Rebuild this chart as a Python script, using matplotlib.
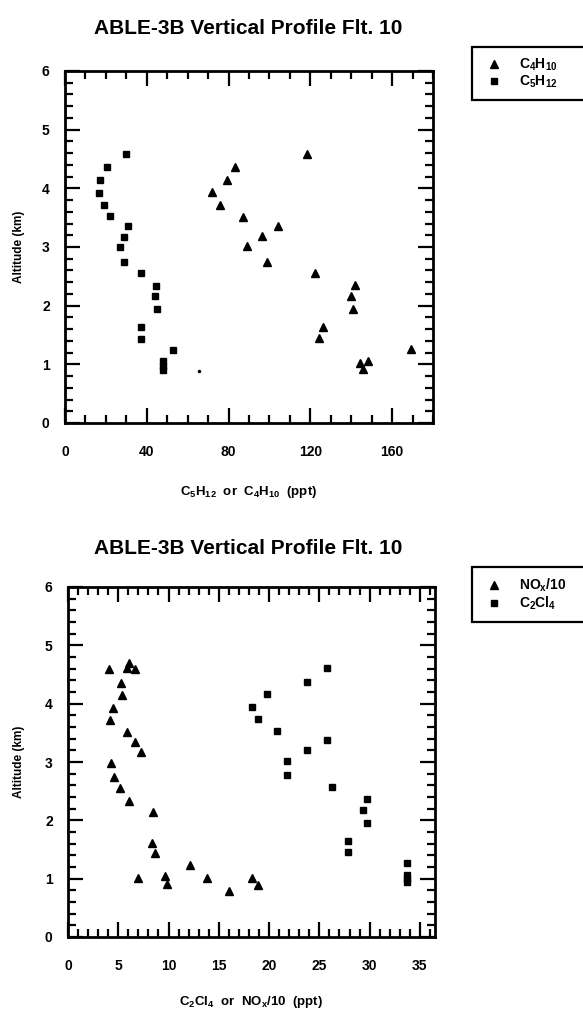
import matplotlib.pyplot as plt
from matplotlib.ticker import MultipleLocator

plt.rcParams['font.family'] = ['Liberation Sans', 'DejaVu Sans']
plt.rcParams['font.weight'] = 'bold'
plt.rcParams['axes.labelweight'] = 'bold'
plt.rcParams['mathtext.fontset'] = 'custom'
plt.rcParams['mathtext.rm'] = 'Liberation Sans:bold'
plt.rcParams['mathtext.default'] = 'rm'

# top panel: butane / pentane (ppt) vs altitude (km)
c4h10_ppt = [118.3, 83.1, 79.0, 72.1, 76.0, 87.0, 104.3, 96.6, 88.9, 99.0,
             122.2, 141.9, 140.1, 141.1, 126.1, 124.2, 169.2, 144.2, 148.3, 146.0]
c4h10_alt = [4.59, 4.37, 4.14, 3.93, 3.72, 3.51, 3.35, 3.18, 3.01, 2.75,
             2.56, 2.36, 2.17, 1.94, 1.64, 1.45, 1.26, 1.03, 1.06, 0.92]
c5h12_ppt = [29.9, 20.6, 17.1, 16.6, 19.1, 22.0, 31.0, 29.0, 26.9, 28.9,
             37.2, 44.4, 43.9, 44.9, 37.2, 37.1, 53.0, 48.1, 48.1, 48.1]
c5h12_alt = [4.59, 4.37, 4.14, 3.92, 3.72, 3.52, 3.35, 3.17, 3.00, 2.75,
             2.56, 2.34, 2.16, 1.94, 1.64, 1.44, 1.24, 1.05, 0.98, 0.91]
stray_ppt = [65.4]
stray_alt = [0.88]

# bottom panel: NOx/10 and C2Cl4 (ppt) vs altitude (km)
nox_ppt = [4.05, 6.1, 5.9, 6.7, 5.27, 5.41, 4.48, 4.15, 5.91, 6.64, 7.23, 4.25, 4.55,
           5.14, 6.11, 8.46, 8.36, 8.66, 12.1, 6.94, 9.65, 9.85, 13.8, 16.05, 18.3, 18.85]
nox_alt = [4.60, 4.70, 4.62, 4.60, 4.36, 4.15, 3.93, 3.72, 3.52, 3.35, 3.17, 2.99, 2.75,
           2.56, 2.34, 2.15, 1.62, 1.44, 1.24, 1.01, 1.04, 0.91, 1.01, 0.79, 1.01, 0.89]
c2cl4_ppt = [25.8, 23.8, 19.8, 18.3, 18.9, 20.8, 25.8, 23.8, 21.8, 21.8,
             26.3, 29.7, 29.3, 29.7, 27.8, 27.8, 33.7, 33.7, 33.7, 33.7]
c2cl4_alt = [4.61, 4.38, 4.17, 3.95, 3.74, 3.54, 3.37, 3.20, 3.02, 2.78,
             2.58, 2.36, 2.18, 1.95, 1.65, 1.46, 1.27, 1.06, 1.00, 0.94]

title = 'ABLE-3B Vertical Profile Flt. 10'

W, H = 583, 1017
fig = plt.figure(figsize=(W / 100, H / 100), dpi=100)
ax1 = fig.add_axes([65 / W, 1 - 423 / H, 368 / W, 352 / H])
ax2 = fig.add_axes([68 / W, 1 - 937 / H, 367 / W, 350 / H])

ax1.plot(c4h10_ppt, c4h10_alt, '^', color='black', ms=6, label=r'C$_4$H$_{10}$')
ax1.plot(c5h12_ppt, c5h12_alt, 's', color='black', ms=5, label=r'C$_5$H$_{12}$')
ax1.plot(stray_ppt, stray_alt, 'o', color='black', ms=1.5)
ax1.set_xlim(0, 180)
ax1.xaxis.set_major_locator(MultipleLocator(40))
ax1.xaxis.set_minor_locator(MultipleLocator(10))
ax1.set_xlabel(r'C$_5$H$_{12}$  or  C$_4$H$_{10}$  (ppt)', fontsize=9.5)
ax1.xaxis.set_label_coords(0.5, -0.172)
ax1.yaxis.set_label_coords(-0.11, 0.5)

ax2.plot(nox_ppt, nox_alt, '^', color='black', ms=6, label=r'NO$_x$/10')
ax2.plot(c2cl4_ppt, c2cl4_alt, 's', color='black', ms=5, label=r'C$_2$Cl$_4$')
ax2.set_xlim(0, 36.5)
ax2.xaxis.set_major_locator(MultipleLocator(5))
ax2.xaxis.set_minor_locator(MultipleLocator(1))
ax2.set_xlabel(r'C$_2$Cl$_4$  or  NO$_x$/10  (ppt)', fontsize=9.5)
ax2.xaxis.set_label_coords(0.5, -0.163)
ax2.yaxis.set_label_coords(-0.118, 0.5)

for ax, ty in [(ax1, 28), (ax2, 548)]:
    ax.set_ylim(0, 6)
    ax.yaxis.set_major_locator(MultipleLocator(1))
    ax.yaxis.set_minor_locator(MultipleLocator(0.2))
    ax.set_ylabel('Altitude (km)', fontsize=8.5)
    ax.tick_params(which='both', direction='in', top=True, right=True,
                   width=1.6, labelsize=10)
    ax.tick_params(which='major', length=11)
    ax.tick_params(which='minor', length=6)
    ax.tick_params(axis='x', pad=16)
    ax.tick_params(axis='y', pad=11)
    for s in ax.spines.values():
        s.set_linewidth(2)
    fig.text(248 / W, 1 - ty / H, title, fontsize=15, ha='center', va='center')

for ax, ytop in [(ax1, 47), (ax2, 567)]:
    leg = ax.legend(loc='upper left', bbox_to_anchor=(472 / W, 1 - ytop / H, 0.3, 0),
                    bbox_transform=fig.transFigure, mode='expand', fontsize=10,
                    fancybox=False, edgecolor='black', framealpha=1,
                    handlelength=1.8, handletextpad=0.9, labelspacing=0.05,
                    borderpad=0.7, borderaxespad=0)
    leg.get_frame().set_linewidth(1.6)

fig.savefig('out.png', dpi=100)
